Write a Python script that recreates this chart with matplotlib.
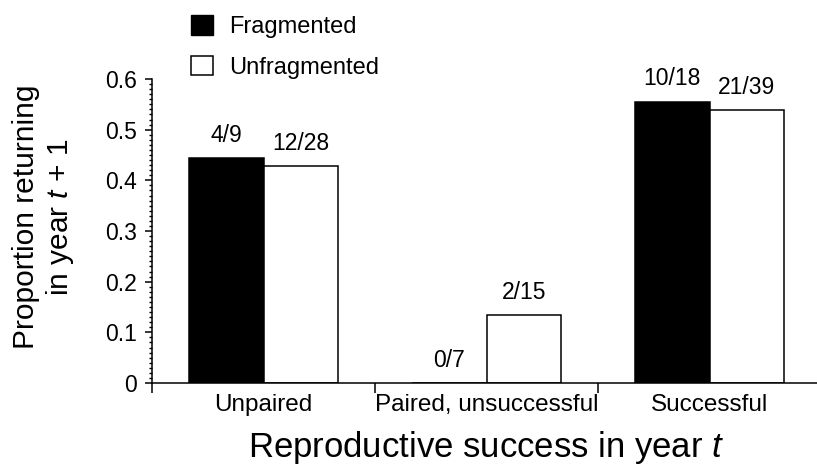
import numpy as np
import matplotlib
matplotlib.use('Agg')
from matplotlib import pyplot as plt
from matplotlib.ticker import MultipleLocator
from matplotlib.patches import Patch

plt.rcParams['font.family'] = ['Liberation Sans', 'DejaVu Sans']
plt.rcParams['mathtext.fontset'] = 'custom'
plt.rcParams['mathtext.rm'] = 'Liberation Sans'
plt.rcParams['mathtext.it'] = 'Liberation Sans:italic'

# returning / total per breeding category
categories = ['Unpaired', 'Paired, unsuccessful', 'Successful']
frag_returned = [4, 0, 10]
frag_total = [9, 7, 18]
unfrag_returned = [12, 2, 21]
unfrag_total = [28, 15, 39]

frag_prop = [r / n for r, n in zip(frag_returned, frag_total)]
unfrag_prop = [r / n for r, n in zip(unfrag_returned, unfrag_total)]

fig = plt.figure(figsize=(8.17, 4.66), dpi=100)
ax = fig.add_axes([152/817, 1-383/466, (821-152)/817, (383-79)/466])

x = np.arange(len(categories))
w = 1/3
b1 = ax.bar(x - w/2, frag_prop, w, color='black', edgecolor='black', linewidth=1.1)
b2 = ax.bar(x + w/2, unfrag_prop, w, color='white', edgecolor='black', linewidth=1.1)

# n-labels over each bar
for bars, ret, tot in [(b1, frag_returned, frag_total), (b2, unfrag_returned, unfrag_total)]:
    for rect, r, n in zip(bars, ret, tot):
        ax.annotate(f'{r}/{n}', (rect.get_x() + rect.get_width()/2, rect.get_height()),
                    xytext=(0, 8), textcoords='offset points',
                    ha='center', va='bottom', fontsize=16.5)

ax.set_xlim(-0.5, 2.5)
ax.set_ylim(0, 0.6)
ax.spines['top'].set_visible(False)
ax.spines['right'].set_visible(False)
ax.spines['left'].set_linewidth(1.1)
ax.spines['bottom'].set_linewidth(1.1)

ax.set_yticks(np.arange(0, 0.61, 0.1))
ax.set_yticklabels(['0', '0.1', '0.2', '0.3', '0.4', '0.5', '0.6'])
ax.yaxis.set_minor_locator(MultipleLocator(0.01))
ax.tick_params(axis='y', which='major', length=5, width=1.1, labelsize=16.5, pad=6)
ax.tick_params(axis='y', which='minor', length=2.5, width=1.0)

ax.set_xticks([-0.5, 0.5, 1.5, 2.5])
ax.set_xticklabels([])
ax.set_xticks(x, minor=True)
ax.set_xticklabels(categories, minor=True)
ax.tick_params(axis='x', which='major', length=7, width=1.1)
ax.tick_params(axis='x', which='minor', length=0, labelsize=17.5, pad=8)

ax.set_xlabel('Reproductive success in year $t$', fontsize=25, labelpad=9)
fig.text(44/817, 1-217/466, 'Proportion returning\nin year $t$ + 1', rotation=90,
         ha='center', va='center', multialignment='center', fontsize=21.5, linespacing=1.15)

handles = [Patch(facecolor='black', edgecolor='black'),
           Patch(facecolor='white', edgecolor='black', linewidth=1.1)]
fig.legend(handles, ['Fragmented', 'Unfragmented'], loc='upper left',
           bbox_to_anchor=(191/817, 1-15/466), frameon=False, fontsize=17,
           handlelength=0.95, handleheight=0.9, handletextpad=0.65,
           labelspacing=0.75, borderpad=0, borderaxespad=0)

fig.savefig('out.png', dpi=100)
